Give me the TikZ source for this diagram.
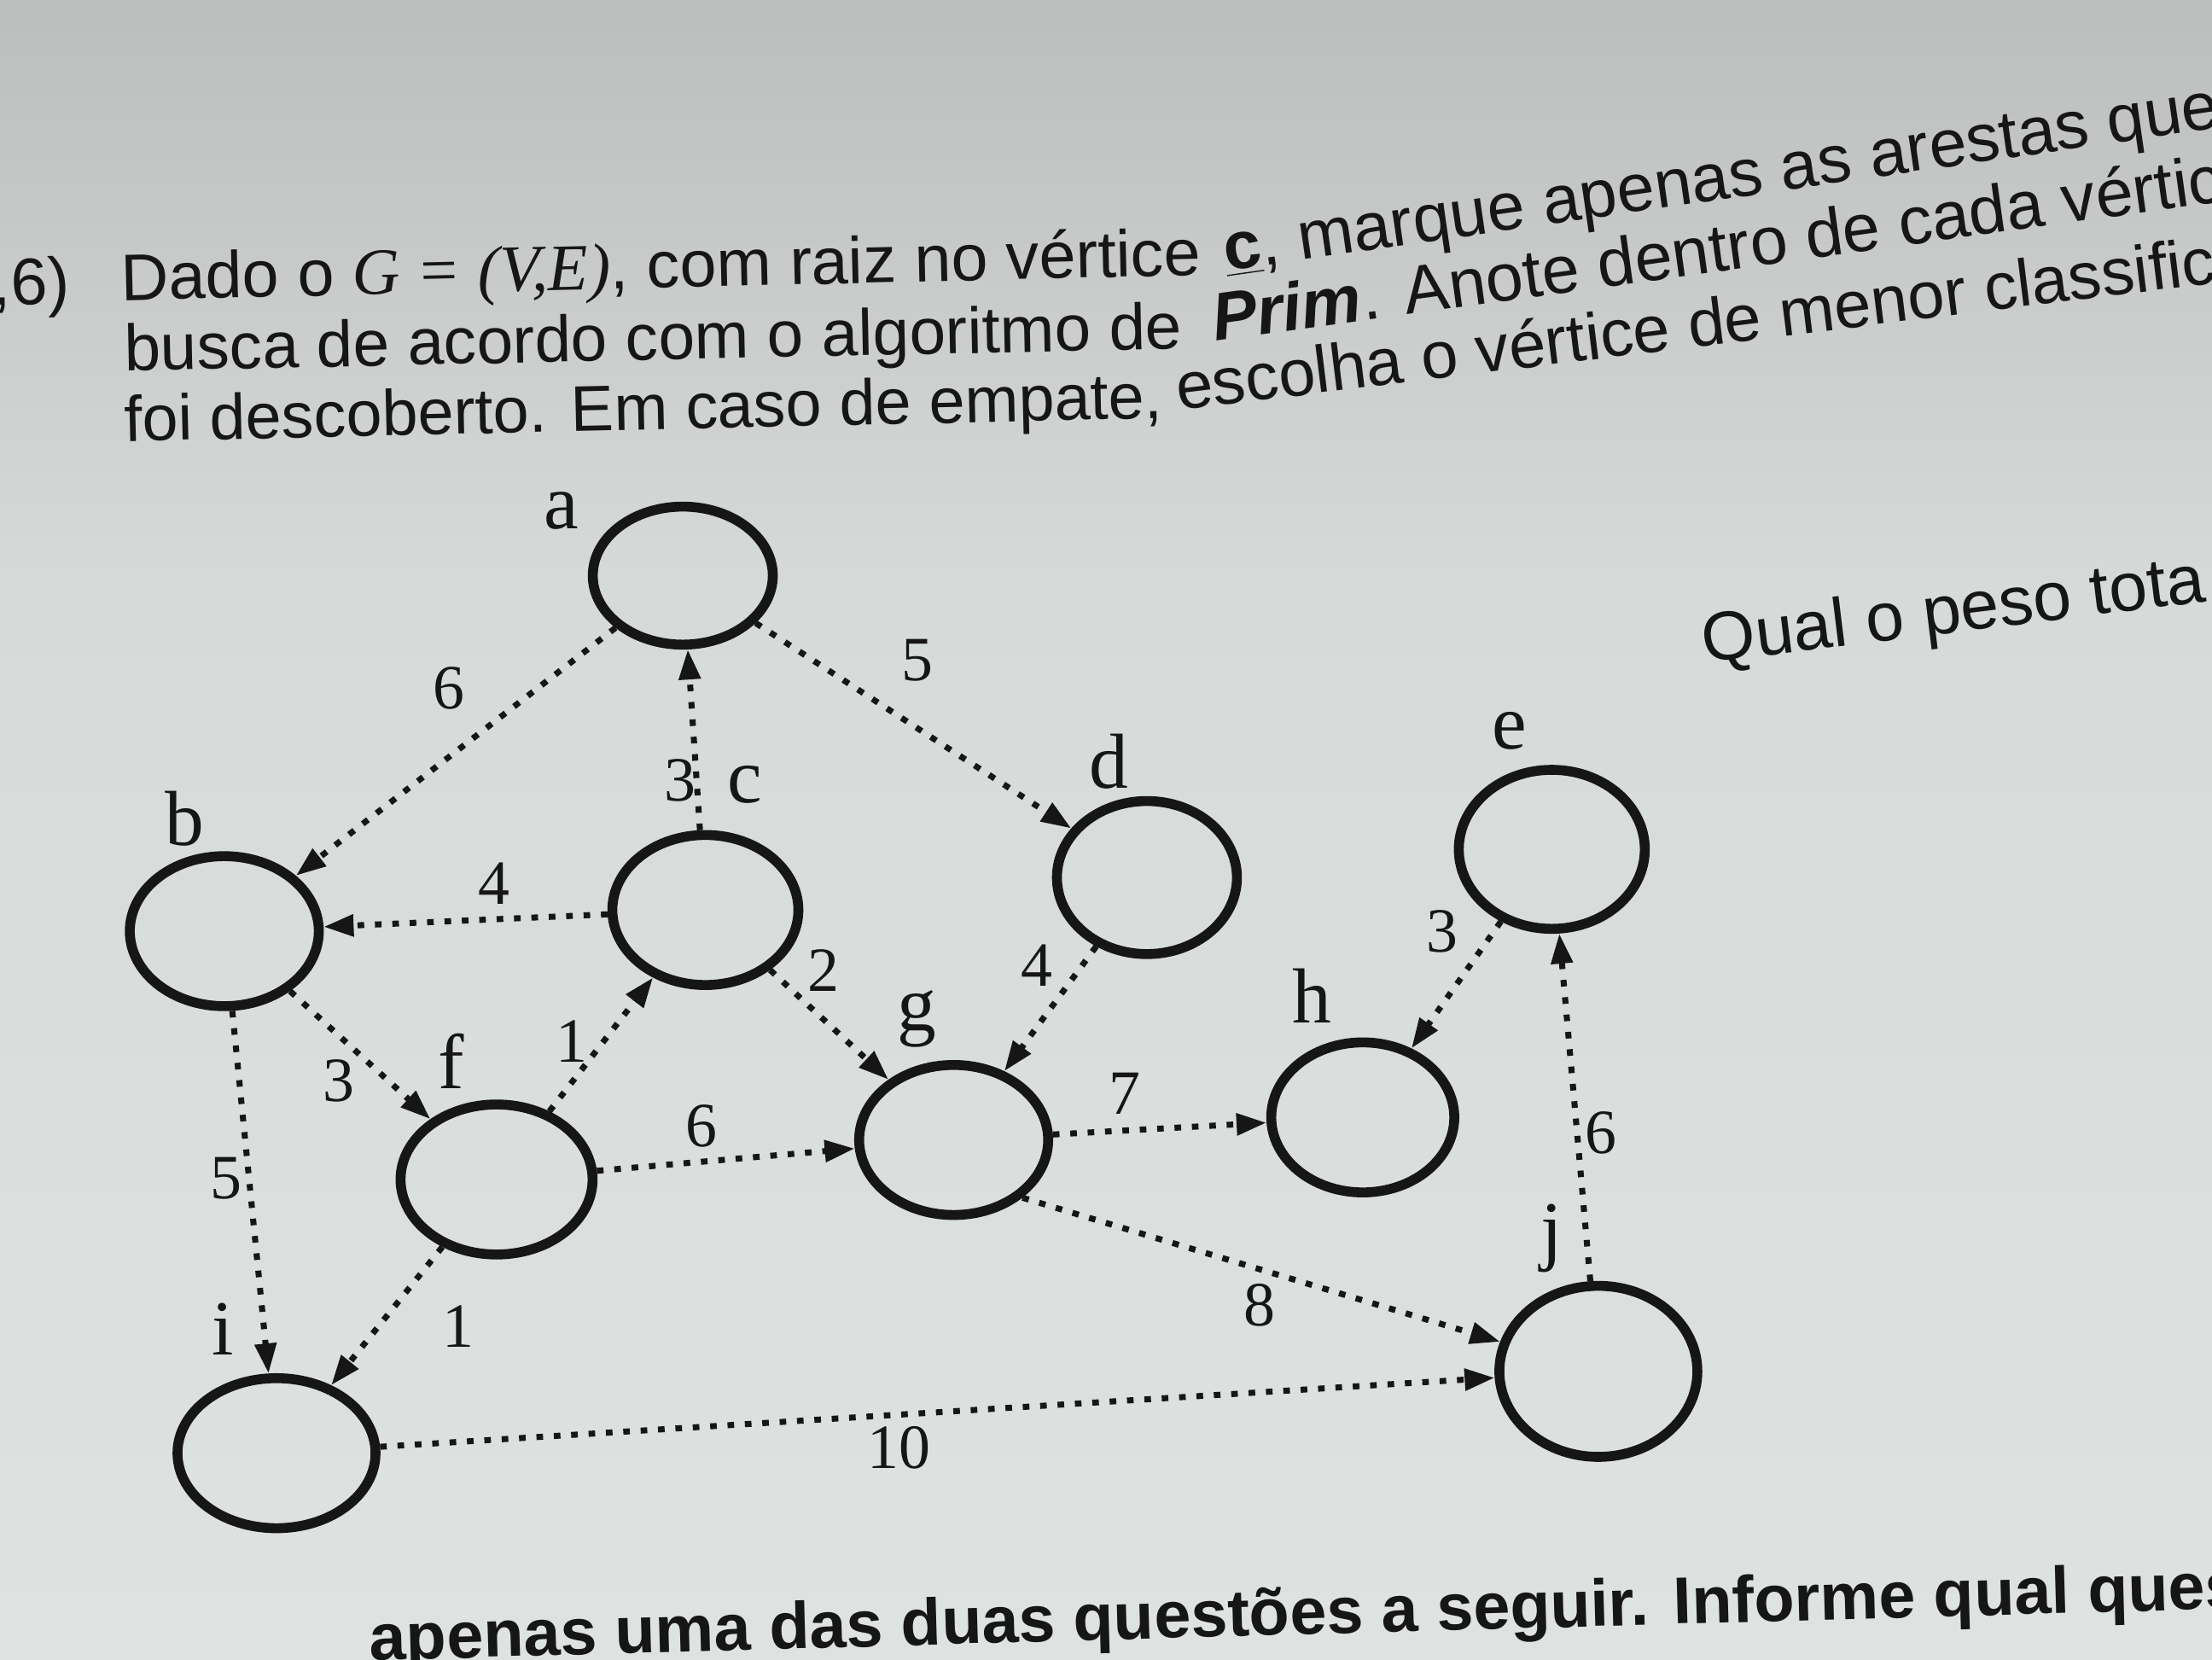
\documentclass[tikz,border=0pt]{standalone}
\usepackage{fontspec}
\setmainfont{Liberation Sans}
\newfontfamily\timesfont{Liberation Serif}
\usetikzlibrary{arrows.meta, shapes.geometric}

\definecolor{ink}{RGB}{22,22,22}
\definecolor{papertop}{RGB}{188,190,189}
\definecolor{papermid}{RGB}{214,218,216}
\definecolor{paperbot}{RGB}{222,226,224}

\begin{document}
\begin{tikzpicture}[x = 0.01653cm, y = -0.01653cm,
  vert/.style = {draw = ink, ellipse, line width = 3.3pt, minimum width = 62pt, minimum height = 50pt, inner sep = 0pt},
  vname/.style = {text = ink, inner sep = 0pt, font = \timesfont\fontsize{26}{26}\selectfont},
  wlabel/.style = {text = ink, inner sep = 0pt, font = \timesfont\fontsize{21}{21}\selectfont},
  link/.style = {draw = ink, line width = 2pt, dash pattern = on 2.2pt off 3.6pt, -{Triangle[length = 10pt, width = 7pt]}},
  txt/.style = {text = ink, inner sep = 0pt, font = \fontsize{22}{26}\selectfont}]
%\draw [help lines, step = 100] (0, 0) grid (1568, 1176);
\shade [top color = papertop, bottom color = papermid] (0, 0) rectangle (1568, 420);
\shade [top color = papermid, bottom color = paperbot] (0, 420) rectangle (1568, 1176);
\useasboundingbox (0, 0) rectangle (1568, 1176);

% question text
\node [txt, anchor = base east, rotate = 1.35] (qnum) at (50, 215) {0,6)};
\node [txt, anchor = base west, rotate = 1.35] (l1a) at (86, 213) {Dado o {\timesfont\itshape G = (V,E)}, com raiz no vértice};
\node [txt, anchor = base west, rotate = 8.2, font = \fontsize{22.5}{26}\selectfont] (l1b) at (869, 192) {\underline{\textbf{c}}, marque apenas as arestas que};
\node [txt, anchor = base west, rotate = 1.2, font = \fontsize{21.8}{26}\selectfont] (l2a) at (88, 263) {busca de acordo com o algoritmo de};
\node [txt, anchor = base west, rotate = 7.9, font = \fontsize{22.5}{26}\selectfont] (l2b) at (861, 242) {\textbf{\textit{Prim}}. Anote dentro de cada vértice};
\node [txt, anchor = base west, rotate = 1.3, font = \fontsize{21.5}{26}\selectfont] (l3a) at (88, 313) {foi descoberto. Em caso de empate,};
\node [txt, anchor = base west, rotate = 7, font = \fontsize{22.1}{26}\selectfont] (l3b) at (835, 291) {escolha o vértice de menor classific};
\node [txt, anchor = base west, rotate = 7, font = \fontsize{23}{26}\selectfont] (peso) at (1208, 470) {Qual o peso tota};
\node [txt, anchor = base west, rotate = 1.6, font = \fontsize{22}{26}\selectfont\bfseries] (next) at (262, 1177) {apenas uma das duas questões a seguir. Informe qual ques};

% vertices
\node [vert, minimum width = 60pt, minimum height = 46pt] (a) at (484, 408) {};
\node [vert, minimum width = 63pt] (b) at (159, 660) {};
\node [vert] (c) at (500, 645) {};
\node [vert, minimum width = 60pt, minimum height = 51pt] (d) at (813, 622) {};
\node [vert, minimum height = 53pt] (e) at (1100, 602) {};
\node [vert, minimum width = 64pt] (f) at (352, 836) {};
\node [vert, minimum width = 63pt] (g) at (676, 808) {};
\node [vert, minimum width = 61pt] (h) at (966, 792) {};
\node [vert, minimum width = 66pt, minimum height = 57pt] (j) at (1133, 972) {};
\node [vert, minimum width = 66pt] (i) at (196, 1030) {};

\node [vname] (na) at (398, 362) {a};
\node [vname] (nb) at (131, 580) {b};
\node [vname] (nc) at (528, 556) {c};
\node [vname] (nd) at (786, 540) {d};
\node [vname] (ne) at (1070, 518) {e};
\node [vname] (nf) at (320, 752) {f};
\node [vname] (ng) at (650, 722) {g};
\node [vname] (nh) at (930, 706) {h};
\node [vname] (nj) at (1100, 878) {j};
\node [vname] (ni) at (158, 942) {i};

% edges
\draw [link] (a) -- (b);
\draw [link] (a) -- (d);
\draw [link] (c) -- (a);
\draw [link] (c) -- (b);
\draw [link] (c) -- (g);
\draw [link] (f) -- (c);
\draw [link] (d) -- (g);
\draw [link] (e) -- (h);
\draw [link] (j) -- (e);
\draw [link] (b) -- (f);
\draw [link] (b) -- (i);
\draw [link] (f) -- (g);
\draw [link] (g) -- (h);
\draw [link] (g.-40) -- (j);
\draw [link] (f) -- (i);
\draw [link] (i) -- (j);

\node [wlabel] (wab) at (318, 488) {6};
\node [wlabel] (wad) at (650, 468) {5};
\node [wlabel] (wca) at (482, 553) {3};
\node [wlabel] (wcb) at (350, 626) {4};
\node [wlabel] (wcg) at (584, 688) {2};
\node [wlabel] (wfc) at (405, 738) {1};
\node [wlabel] (wdg) at (735, 684) {4};
\node [wlabel] (weh) at (1022, 660) {3};
\node [wlabel] (wje) at (1135, 803) {6};
\node [wlabel] (wbf) at (240, 766) {3};
\node [wlabel] (wbi) at (160, 835) {5};
\node [wlabel] (wfg) at (497, 798) {6};
\node [wlabel] (wgh) at (797, 775) {7};
\node [wlabel] (wgj) at (893, 925) {8};
\node [wlabel] (wfi) at (325, 940) {1};
\node [wlabel] (wij) at (637, 1026) {10};
\end{tikzpicture}
\end{document}
